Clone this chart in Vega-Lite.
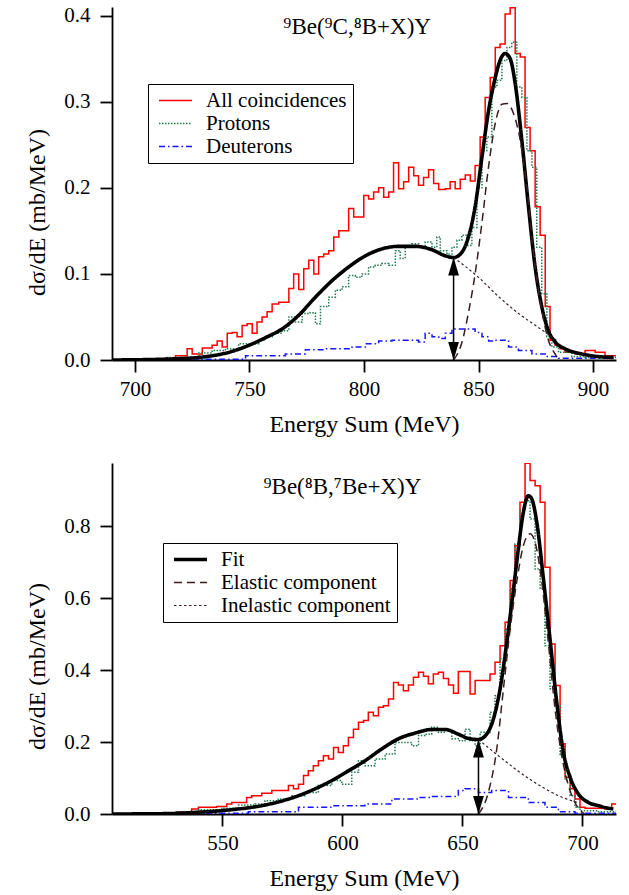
{
  "$schema": "https://vega.github.io/schema/vega-lite/v6.json",
  "background": "white",
  "padding": {"left": 25, "top": 4, "right": 5, "bottom": 2},
  "spacing": 27,
  "config": {
    "font": "Liberation Serif, Times New Roman, serif",
    "view": {"stroke": null},
    "style": {
      "guide-label": {"font": "Liberation Serif, Times New Roman, serif", "fill": "#000"},
      "guide-title": {"font": "Liberation Serif, Times New Roman, serif", "fill": "#000", "fontWeight": "normal"}
    },
    "axis": {"domainColor": "#000", "domainWidth": 1.8, "tickColor": "#000", "tickWidth": 1.8, "tickSize": 12, "labelFont": "Liberation Serif, Times New Roman, serif", "labelFontSize": 21, "labelColor": "#000", "titleFont": "Liberation Serif, Times New Roman, serif", "titleFontSize": 23, "titleFontWeight": "normal", "titleColor": "#000", "grid": false},
    "legend": {"labelFont": "Liberation Serif, Times New Roman, serif", "labelFontSize": 21, "labelColor": "#000", "labelLimit": 400, "strokeColor": "#000", "fillColor": "#fff", "padding": 6, "rowPadding": 1}
  },
  "datasets": {
    "histTop": [
      {"series": "All coincidences", "x": 690, "y": 0},
      {"series": "All coincidences", "x": 711.9, "y": 0.0015},
      {"series": "All coincidences", "x": 717.7, "y": 0.005},
      {"series": "All coincidences", "x": 722.8, "y": 0.013},
      {"series": "All coincidences", "x": 725.0, "y": 0.007},
      {"series": "All coincidences", "x": 729.4, "y": 0.014},
      {"series": "All coincidences", "x": 733.7, "y": 0.017},
      {"series": "All coincidences", "x": 735.9, "y": 0.022},
      {"series": "All coincidences", "x": 738.1, "y": 0.015},
      {"series": "All coincidences", "x": 740.3, "y": 0.031},
      {"series": "All coincidences", "x": 742.4, "y": 0.032},
      {"series": "All coincidences", "x": 744.6, "y": 0.027},
      {"series": "All coincidences", "x": 746.8, "y": 0.040},
      {"series": "All coincidences", "x": 749.0, "y": 0.042},
      {"series": "All coincidences", "x": 751.2, "y": 0.031},
      {"series": "All coincidences", "x": 753.3, "y": 0.044},
      {"series": "All coincidences", "x": 755.5, "y": 0.050},
      {"series": "All coincidences", "x": 757.7, "y": 0.056},
      {"series": "All coincidences", "x": 759.9, "y": 0.065},
      {"series": "All coincidences", "x": 762.8, "y": 0.067},
      {"series": "All coincidences", "x": 767.2, "y": 0.083},
      {"series": "All coincidences", "x": 769.3, "y": 0.100},
      {"series": "All coincidences", "x": 771.5, "y": 0.082},
      {"series": "All coincidences", "x": 773.7, "y": 0.106},
      {"series": "All coincidences", "x": 775.9, "y": 0.116},
      {"series": "All coincidences", "x": 778.1, "y": 0.100},
      {"series": "All coincidences", "x": 780.2, "y": 0.120},
      {"series": "All coincidences", "x": 782.4, "y": 0.123},
      {"series": "All coincidences", "x": 784.6, "y": 0.127},
      {"series": "All coincidences", "x": 786.8, "y": 0.143},
      {"series": "All coincidences", "x": 789.0, "y": 0.150},
      {"series": "All coincidences", "x": 793.3, "y": 0.176},
      {"series": "All coincidences", "x": 795.5, "y": 0.166},
      {"series": "All coincidences", "x": 799.9, "y": 0.191},
      {"series": "All coincidences", "x": 802.0, "y": 0.187},
      {"series": "All coincidences", "x": 804.2, "y": 0.195},
      {"series": "All coincidences", "x": 806.4, "y": 0.200},
      {"series": "All coincidences", "x": 808.6, "y": 0.189},
      {"series": "All coincidences", "x": 810.8, "y": 0.195},
      {"series": "All coincidences", "x": 812.9, "y": 0.229},
      {"series": "All coincidences", "x": 815.1, "y": 0.199},
      {"series": "All coincidences", "x": 817.3, "y": 0.207},
      {"series": "All coincidences", "x": 819.5, "y": 0.224},
      {"series": "All coincidences", "x": 821.7, "y": 0.214},
      {"series": "All coincidences", "x": 823.8, "y": 0.203},
      {"series": "All coincidences", "x": 826.0, "y": 0.212},
      {"series": "All coincidences", "x": 828.2, "y": 0.221},
      {"series": "All coincidences", "x": 830.4, "y": 0.205},
      {"series": "All coincidences", "x": 832.6, "y": 0.198},
      {"series": "All coincidences", "x": 835.5, "y": 0.199},
      {"series": "All coincidences", "x": 837.6, "y": 0.207},
      {"series": "All coincidences", "x": 839.8, "y": 0.199},
      {"series": "All coincidences", "x": 842.0, "y": 0.210},
      {"series": "All coincidences", "x": 844.2, "y": 0.215},
      {"series": "All coincidences", "x": 846.4, "y": 0.208},
      {"series": "All coincidences", "x": 848.5, "y": 0.226},
      {"series": "All coincidences", "x": 850.7, "y": 0.259},
      {"series": "All coincidences", "x": 852.9, "y": 0.305},
      {"series": "All coincidences", "x": 855.1, "y": 0.328},
      {"series": "All coincidences", "x": 857.3, "y": 0.363},
      {"series": "All coincidences", "x": 859.4, "y": 0.367},
      {"series": "All coincidences", "x": 861.6, "y": 0.402},
      {"series": "All coincidences", "x": 863.8, "y": 0.409},
      {"series": "All coincidences", "x": 866.0, "y": 0.356},
      {"series": "All coincidences", "x": 868.2, "y": 0.352},
      {"series": "All coincidences", "x": 870.3, "y": 0.270},
      {"series": "All coincidences", "x": 872.5, "y": 0.243},
      {"series": "All coincidences", "x": 874.7, "y": 0.178},
      {"series": "All coincidences", "x": 876.9, "y": 0.145},
      {"series": "All coincidences", "x": 879.1, "y": 0.062},
      {"series": "All coincidences", "x": 881.2, "y": 0.023},
      {"series": "All coincidences", "x": 883.4, "y": 0.017},
      {"series": "All coincidences", "x": 885.6, "y": 0.013},
      {"series": "All coincidences", "x": 887.8, "y": 0.009},
      {"series": "All coincidences", "x": 892.2, "y": 0.007},
      {"series": "All coincidences", "x": 896.5, "y": 0.011},
      {"series": "All coincidences", "x": 900.9, "y": 0.009},
      {"series": "All coincidences", "x": 905.2, "y": 0.005},
      {"series": "All coincidences", "x": 910, "y": 0.005},
      {"series": "Protons", "x": 690, "y": 0},
      {"series": "Protons", "x": 713.4, "y": 0.003},
      {"series": "Protons", "x": 727.9, "y": 0.008},
      {"series": "Protons", "x": 733.7, "y": 0.011},
      {"series": "Protons", "x": 739.5, "y": 0.013},
      {"series": "Protons", "x": 745.3, "y": 0.019},
      {"series": "Protons", "x": 754.1, "y": 0.023},
      {"series": "Protons", "x": 757.0, "y": 0.027},
      {"series": "Protons", "x": 759.9, "y": 0.031},
      {"series": "Protons", "x": 764.2, "y": 0.034},
      {"series": "Protons", "x": 767.2, "y": 0.050},
      {"series": "Protons", "x": 770.1, "y": 0.044},
      {"series": "Protons", "x": 773.0, "y": 0.054},
      {"series": "Protons", "x": 775.9, "y": 0.055},
      {"series": "Protons", "x": 778.8, "y": 0.042},
      {"series": "Protons", "x": 781.0, "y": 0.062},
      {"series": "Protons", "x": 784.6, "y": 0.073},
      {"series": "Protons", "x": 787.5, "y": 0.081},
      {"series": "Protons", "x": 790.4, "y": 0.085},
      {"series": "Protons", "x": 793.3, "y": 0.098},
      {"series": "Protons", "x": 796.2, "y": 0.096},
      {"series": "Protons", "x": 799.1, "y": 0.100},
      {"series": "Protons", "x": 802.0, "y": 0.108},
      {"series": "Protons", "x": 804.9, "y": 0.110},
      {"series": "Protons", "x": 807.8, "y": 0.112},
      {"series": "Protons", "x": 810.8, "y": 0.110},
      {"series": "Protons", "x": 813.7, "y": 0.127},
      {"series": "Protons", "x": 815.8, "y": 0.118},
      {"series": "Protons", "x": 818.0, "y": 0.133},
      {"series": "Protons", "x": 820.9, "y": 0.135},
      {"series": "Protons", "x": 823.8, "y": 0.131},
      {"series": "Protons", "x": 826.7, "y": 0.137},
      {"series": "Protons", "x": 829.7, "y": 0.131},
      {"series": "Protons", "x": 831.8, "y": 0.143},
      {"series": "Protons", "x": 833.3, "y": 0.127},
      {"series": "Protons", "x": 836.2, "y": 0.123},
      {"series": "Protons", "x": 838.4, "y": 0.131},
      {"series": "Protons", "x": 840.6, "y": 0.139},
      {"series": "Protons", "x": 842.7, "y": 0.145},
      {"series": "Protons", "x": 844.9, "y": 0.133},
      {"series": "Protons", "x": 847.1, "y": 0.154},
      {"series": "Protons", "x": 849.3, "y": 0.200},
      {"series": "Protons", "x": 851.5, "y": 0.243},
      {"series": "Protons", "x": 853.6, "y": 0.259},
      {"series": "Protons", "x": 855.8, "y": 0.317},
      {"series": "Protons", "x": 858.0, "y": 0.325},
      {"series": "Protons", "x": 860.2, "y": 0.348},
      {"series": "Protons", "x": 862.4, "y": 0.363},
      {"series": "Protons", "x": 864.5, "y": 0.369},
      {"series": "Protons", "x": 866.7, "y": 0.317},
      {"series": "Protons", "x": 868.9, "y": 0.305},
      {"series": "Protons", "x": 871.1, "y": 0.243},
      {"series": "Protons", "x": 873.3, "y": 0.224},
      {"series": "Protons", "x": 875.4, "y": 0.131},
      {"series": "Protons", "x": 877.6, "y": 0.077},
      {"series": "Protons", "x": 879.8, "y": 0.027},
      {"series": "Protons", "x": 882.0, "y": 0.015},
      {"series": "Protons", "x": 884.9, "y": 0.009},
      {"series": "Protons", "x": 890.7, "y": 0.004},
      {"series": "Protons", "x": 896.5, "y": 0.003},
      {"series": "Protons", "x": 910, "y": 0.003},
      {"series": "Deuterons", "x": 690, "y": 0},
      {"series": "Deuterons", "x": 727.9, "y": 0.001},
      {"series": "Deuterons", "x": 748.3, "y": 0.005},
      {"series": "Deuterons", "x": 765.7, "y": 0.007},
      {"series": "Deuterons", "x": 774.4, "y": 0.012},
      {"series": "Deuterons", "x": 783.1, "y": 0.013},
      {"series": "Deuterons", "x": 794.8, "y": 0.015},
      {"series": "Deuterons", "x": 800.6, "y": 0.019},
      {"series": "Deuterons", "x": 806.4, "y": 0.022},
      {"series": "Deuterons", "x": 812.2, "y": 0.023},
      {"series": "Deuterons", "x": 823.8, "y": 0.021},
      {"series": "Deuterons", "x": 826.7, "y": 0.031},
      {"series": "Deuterons", "x": 829.7, "y": 0.027},
      {"series": "Deuterons", "x": 832.6, "y": 0.025},
      {"series": "Deuterons", "x": 835.5, "y": 0.031},
      {"series": "Deuterons", "x": 838.4, "y": 0.036},
      {"series": "Deuterons", "x": 848.5, "y": 0.032},
      {"series": "Deuterons", "x": 851.5, "y": 0.027},
      {"series": "Deuterons", "x": 854.4, "y": 0.022},
      {"series": "Deuterons", "x": 857.3, "y": 0.023},
      {"series": "Deuterons", "x": 863.1, "y": 0.015},
      {"series": "Deuterons", "x": 867.4, "y": 0.011},
      {"series": "Deuterons", "x": 873.3, "y": 0.007},
      {"series": "Deuterons", "x": 879.1, "y": 0.004},
      {"series": "Deuterons", "x": 884.9, "y": 0.002},
      {"series": "Deuterons", "x": 910, "y": 0.002}
    ],
    "curveTop": [
      {"comp": "Fit", "x": 690, "y": 0},
      {"comp": "Fit", "x": 713.4, "y": 0.001},
      {"comp": "Fit", "x": 727.9, "y": 0.003},
      {"comp": "Fit", "x": 742.4, "y": 0.010},
      {"comp": "Fit", "x": 749.7, "y": 0.017},
      {"comp": "Fit", "x": 757.0, "y": 0.026},
      {"comp": "Fit", "x": 764.2, "y": 0.036},
      {"comp": "Fit", "x": 771.5, "y": 0.052},
      {"comp": "Fit", "x": 778.8, "y": 0.073},
      {"comp": "Fit", "x": 786.0, "y": 0.092},
      {"comp": "Fit", "x": 793.3, "y": 0.108},
      {"comp": "Fit", "x": 800.6, "y": 0.121},
      {"comp": "Fit", "x": 807.8, "y": 0.129},
      {"comp": "Fit", "x": 815.1, "y": 0.132},
      {"comp": "Fit", "x": 822.4, "y": 0.132},
      {"comp": "Fit", "x": 829.7, "y": 0.128},
      {"comp": "Fit", "x": 835.5, "y": 0.121},
      {"comp": "Fit", "x": 839.1, "y": 0.119},
      {"comp": "Fit", "x": 842.7, "y": 0.125},
      {"comp": "Fit", "x": 845.6, "y": 0.143},
      {"comp": "Fit", "x": 848.5, "y": 0.178},
      {"comp": "Fit", "x": 851.5, "y": 0.236},
      {"comp": "Fit", "x": 854.4, "y": 0.290},
      {"comp": "Fit", "x": 857.3, "y": 0.328},
      {"comp": "Fit", "x": 859.4, "y": 0.348},
      {"comp": "Fit", "x": 861.6, "y": 0.356},
      {"comp": "Fit", "x": 863.8, "y": 0.350},
      {"comp": "Fit", "x": 866.0, "y": 0.321},
      {"comp": "Fit", "x": 868.9, "y": 0.255},
      {"comp": "Fit", "x": 871.8, "y": 0.178},
      {"comp": "Fit", "x": 874.7, "y": 0.108},
      {"comp": "Fit", "x": 877.6, "y": 0.062},
      {"comp": "Fit", "x": 880.5, "y": 0.034},
      {"comp": "Fit", "x": 883.4, "y": 0.021},
      {"comp": "Fit", "x": 887.8, "y": 0.013},
      {"comp": "Fit", "x": 895.1, "y": 0.007},
      {"comp": "Fit", "x": 902.3, "y": 0.004},
      {"comp": "Fit", "x": 908.9, "y": 0.003},
      {"comp": "Elastic component", "x": 839.1, "y": 0},
      {"comp": "Elastic component", "x": 842.7, "y": 0.02},
      {"comp": "Elastic component", "x": 845.6, "y": 0.055},
      {"comp": "Elastic component", "x": 848.5, "y": 0.10},
      {"comp": "Elastic component", "x": 851.5, "y": 0.16},
      {"comp": "Elastic component", "x": 854.4, "y": 0.225},
      {"comp": "Elastic component", "x": 857.3, "y": 0.275},
      {"comp": "Elastic component", "x": 860.2, "y": 0.297},
      {"comp": "Elastic component", "x": 862.4, "y": 0.298},
      {"comp": "Elastic component", "x": 865.3, "y": 0.286},
      {"comp": "Elastic component", "x": 868.2, "y": 0.255},
      {"comp": "Elastic component", "x": 871.1, "y": 0.20},
      {"comp": "Elastic component", "x": 874.0, "y": 0.123},
      {"comp": "Elastic component", "x": 876.9, "y": 0.069},
      {"comp": "Elastic component", "x": 880.5, "y": 0.023},
      {"comp": "Elastic component", "x": 883.4, "y": 0.007},
      {"comp": "Elastic component", "x": 885.0, "y": 0},
      {"comp": "Inelastic component", "x": 839.1, "y": 0.119},
      {"comp": "Inelastic component", "x": 850.0, "y": 0.096},
      {"comp": "Inelastic component", "x": 859.0, "y": 0.073},
      {"comp": "Inelastic component", "x": 868.0, "y": 0.053},
      {"comp": "Inelastic component", "x": 876.0, "y": 0.038},
      {"comp": "Inelastic component", "x": 884.0, "y": 0.023}
    ],
    "arrowTop": [{"x": 839.1, "y": 0, "y2": 0.119}],
    "labelTop": [{"text": "⁹Be(⁹C,⁸B+X)Y", "x": 797, "y": 0.379}],
    "histBottom": [
      {"series": "All coincidences", "x": 504, "y": 0},
      {"series": "All coincidences", "x": 526.1, "y": 0.003},
      {"series": "All coincidences", "x": 531.7, "y": 0.006},
      {"series": "All coincidences", "x": 537.2, "y": 0.014},
      {"series": "All coincidences", "x": 540.0, "y": 0.019},
      {"series": "All coincidences", "x": 547.6, "y": 0.021},
      {"series": "All coincidences", "x": 551.8, "y": 0.028},
      {"series": "All coincidences", "x": 553.9, "y": 0.032},
      {"series": "All coincidences", "x": 560.1, "y": 0.046},
      {"series": "All coincidences", "x": 562.2, "y": 0.051},
      {"series": "All coincidences", "x": 566.4, "y": 0.058},
      {"series": "All coincidences", "x": 570.6, "y": 0.065},
      {"series": "All coincidences", "x": 577.5, "y": 0.079},
      {"series": "All coincidences", "x": 579.6, "y": 0.070},
      {"series": "All coincidences", "x": 581.7, "y": 0.083},
      {"series": "All coincidences", "x": 583.8, "y": 0.107},
      {"series": "All coincidences", "x": 585.8, "y": 0.120},
      {"series": "All coincidences", "x": 587.9, "y": 0.134},
      {"series": "All coincidences", "x": 590.0, "y": 0.148},
      {"series": "All coincidences", "x": 592.1, "y": 0.162},
      {"series": "All coincidences", "x": 594.2, "y": 0.153},
      {"series": "All coincidences", "x": 596.3, "y": 0.185},
      {"series": "All coincidences", "x": 598.3, "y": 0.171},
      {"series": "All coincidences", "x": 600.4, "y": 0.190},
      {"series": "All coincidences", "x": 602.5, "y": 0.213},
      {"series": "All coincidences", "x": 604.6, "y": 0.236},
      {"series": "All coincidences", "x": 606.7, "y": 0.255},
      {"series": "All coincidences", "x": 608.8, "y": 0.260},
      {"series": "All coincidences", "x": 610.8, "y": 0.283},
      {"series": "All coincidences", "x": 612.9, "y": 0.273},
      {"series": "All coincidences", "x": 615.0, "y": 0.297},
      {"series": "All coincidences", "x": 617.1, "y": 0.301},
      {"series": "All coincidences", "x": 619.2, "y": 0.320},
      {"series": "All coincidences", "x": 621.3, "y": 0.366},
      {"series": "All coincidences", "x": 623.3, "y": 0.359},
      {"series": "All coincidences", "x": 625.4, "y": 0.343},
      {"series": "All coincidences", "x": 627.5, "y": 0.359},
      {"series": "All coincidences", "x": 629.6, "y": 0.380},
      {"series": "All coincidences", "x": 631.7, "y": 0.394},
      {"series": "All coincidences", "x": 633.8, "y": 0.383},
      {"series": "All coincidences", "x": 635.8, "y": 0.362},
      {"series": "All coincidences", "x": 637.9, "y": 0.389},
      {"series": "All coincidences", "x": 640.0, "y": 0.394},
      {"series": "All coincidences", "x": 642.1, "y": 0.377},
      {"series": "All coincidences", "x": 644.2, "y": 0.359},
      {"series": "All coincidences", "x": 646.3, "y": 0.336},
      {"series": "All coincidences", "x": 648.3, "y": 0.396},
      {"series": "All coincidences", "x": 653.2, "y": 0.334},
      {"series": "All coincidences", "x": 655.3, "y": 0.371},
      {"series": "All coincidences", "x": 661.5, "y": 0.389},
      {"series": "All coincidences", "x": 663.6, "y": 0.422},
      {"series": "All coincidences", "x": 665.7, "y": 0.468},
      {"series": "All coincidences", "x": 667.8, "y": 0.533},
      {"series": "All coincidences", "x": 669.9, "y": 0.649},
      {"series": "All coincidences", "x": 671.9, "y": 0.746},
      {"series": "All coincidences", "x": 674.0, "y": 0.867},
      {"series": "All coincidences", "x": 676.1, "y": 0.975},
      {"series": "All coincidences", "x": 678.2, "y": 0.927},
      {"series": "All coincidences", "x": 680.3, "y": 0.913},
      {"series": "All coincidences", "x": 682.4, "y": 0.867},
      {"series": "All coincidences", "x": 684.4, "y": 0.686},
      {"series": "All coincidences", "x": 686.5, "y": 0.473},
      {"series": "All coincidences", "x": 688.6, "y": 0.357},
      {"series": "All coincidences", "x": 690.7, "y": 0.195},
      {"series": "All coincidences", "x": 692.8, "y": 0.102},
      {"series": "All coincidences", "x": 694.9, "y": 0.070},
      {"series": "All coincidences", "x": 696.9, "y": 0.042},
      {"series": "All coincidences", "x": 699.0, "y": 0.019},
      {"series": "All coincidences", "x": 701.1, "y": 0.016},
      {"series": "All coincidences", "x": 709.4, "y": 0.014},
      {"series": "All coincidences", "x": 712.2, "y": 0.028},
      {"series": "All coincidences", "x": 714, "y": 0.028},
      {"series": "Protons", "x": 504, "y": 0},
      {"series": "Protons", "x": 530.3, "y": 0.006},
      {"series": "Protons", "x": 540.0, "y": 0.012},
      {"series": "Protons", "x": 549.7, "y": 0.016},
      {"series": "Protons", "x": 556.7, "y": 0.025},
      {"series": "Protons", "x": 563.6, "y": 0.028},
      {"series": "Protons", "x": 567.8, "y": 0.037},
      {"series": "Protons", "x": 573.3, "y": 0.042},
      {"series": "Protons", "x": 578.9, "y": 0.051},
      {"series": "Protons", "x": 584.4, "y": 0.060},
      {"series": "Protons", "x": 590.0, "y": 0.079},
      {"series": "Protons", "x": 595.6, "y": 0.093},
      {"series": "Protons", "x": 599.7, "y": 0.083},
      {"series": "Protons", "x": 603.9, "y": 0.116},
      {"series": "Protons", "x": 606.7, "y": 0.148},
      {"series": "Protons", "x": 609.4, "y": 0.134},
      {"series": "Protons", "x": 613.6, "y": 0.153},
      {"series": "Protons", "x": 617.8, "y": 0.167},
      {"series": "Protons", "x": 621.9, "y": 0.199},
      {"series": "Protons", "x": 628.9, "y": 0.190},
      {"series": "Protons", "x": 631.7, "y": 0.218},
      {"series": "Protons", "x": 634.4, "y": 0.222},
      {"series": "Protons", "x": 637.2, "y": 0.241},
      {"series": "Protons", "x": 640.0, "y": 0.227},
      {"series": "Protons", "x": 642.8, "y": 0.232},
      {"series": "Protons", "x": 645.6, "y": 0.209},
      {"series": "Protons", "x": 648.3, "y": 0.204},
      {"series": "Protons", "x": 651.1, "y": 0.236},
      {"series": "Protons", "x": 653.2, "y": 0.204},
      {"series": "Protons", "x": 655.3, "y": 0.190},
      {"series": "Protons", "x": 657.4, "y": 0.227},
      {"series": "Protons", "x": 661.5, "y": 0.283},
      {"series": "Protons", "x": 663.6, "y": 0.329},
      {"series": "Protons", "x": 665.7, "y": 0.431},
      {"series": "Protons", "x": 667.8, "y": 0.514},
      {"series": "Protons", "x": 669.9, "y": 0.626},
      {"series": "Protons", "x": 671.9, "y": 0.751},
      {"series": "Protons", "x": 674.0, "y": 0.844},
      {"series": "Protons", "x": 676.1, "y": 0.871},
      {"series": "Protons", "x": 678.2, "y": 0.820},
      {"series": "Protons", "x": 680.3, "y": 0.681},
      {"series": "Protons", "x": 682.4, "y": 0.626},
      {"series": "Protons", "x": 684.4, "y": 0.468},
      {"series": "Protons", "x": 686.5, "y": 0.348},
      {"series": "Protons", "x": 688.6, "y": 0.301},
      {"series": "Protons", "x": 690.7, "y": 0.162},
      {"series": "Protons", "x": 692.8, "y": 0.093},
      {"series": "Protons", "x": 694.9, "y": 0.051},
      {"series": "Protons", "x": 696.9, "y": 0.019},
      {"series": "Protons", "x": 699.0, "y": 0.009},
      {"series": "Protons", "x": 706.7, "y": 0.006},
      {"series": "Protons", "x": 714, "y": 0.006},
      {"series": "Deuterons", "x": 504, "y": 0},
      {"series": "Deuterons", "x": 520, "y": 0.002},
      {"series": "Deuterons", "x": 560.8, "y": 0.006},
      {"series": "Deuterons", "x": 581.7, "y": 0.019},
      {"series": "Deuterons", "x": 595.6, "y": 0.023},
      {"series": "Deuterons", "x": 609.4, "y": 0.028},
      {"series": "Deuterons", "x": 620.6, "y": 0.042},
      {"series": "Deuterons", "x": 631.7, "y": 0.046},
      {"series": "Deuterons", "x": 637.2, "y": 0.049},
      {"series": "Deuterons", "x": 648.3, "y": 0.065},
      {"series": "Deuterons", "x": 651.1, "y": 0.070},
      {"series": "Deuterons", "x": 656.7, "y": 0.060},
      {"series": "Deuterons", "x": 662.2, "y": 0.065},
      {"series": "Deuterons", "x": 669.2, "y": 0.046},
      {"series": "Deuterons", "x": 677.5, "y": 0.032},
      {"series": "Deuterons", "x": 684.4, "y": 0.019},
      {"series": "Deuterons", "x": 690.0, "y": 0.006},
      {"series": "Deuterons", "x": 696.9, "y": 0.002},
      {"series": "Deuterons", "x": 714, "y": 0.002}
    ],
    "curveBottom": [
      {"comp": "Fit", "x": 504, "y": 0},
      {"comp": "Fit", "x": 526.1, "y": 0.001},
      {"comp": "Fit", "x": 540.0, "y": 0.005},
      {"comp": "Fit", "x": 553.9, "y": 0.012},
      {"comp": "Fit", "x": 567.8, "y": 0.025},
      {"comp": "Fit", "x": 581.7, "y": 0.051},
      {"comp": "Fit", "x": 588.6, "y": 0.070},
      {"comp": "Fit", "x": 595.6, "y": 0.093},
      {"comp": "Fit", "x": 602.5, "y": 0.120},
      {"comp": "Fit", "x": 609.4, "y": 0.148},
      {"comp": "Fit", "x": 616.4, "y": 0.181},
      {"comp": "Fit", "x": 623.3, "y": 0.209},
      {"comp": "Fit", "x": 630.3, "y": 0.225},
      {"comp": "Fit", "x": 637.2, "y": 0.235},
      {"comp": "Fit", "x": 642.8, "y": 0.235},
      {"comp": "Fit", "x": 648.3, "y": 0.222},
      {"comp": "Fit", "x": 652.5, "y": 0.210},
      {"comp": "Fit", "x": 656.7, "y": 0.207},
      {"comp": "Fit", "x": 660.1, "y": 0.222},
      {"comp": "Fit", "x": 662.9, "y": 0.264},
      {"comp": "Fit", "x": 665.7, "y": 0.348},
      {"comp": "Fit", "x": 668.5, "y": 0.477},
      {"comp": "Fit", "x": 671.3, "y": 0.626},
      {"comp": "Fit", "x": 673.3, "y": 0.737},
      {"comp": "Fit", "x": 675.4, "y": 0.839},
      {"comp": "Fit", "x": 677.5, "y": 0.885},
      {"comp": "Fit", "x": 678.9, "y": 0.876},
      {"comp": "Fit", "x": 681.0, "y": 0.811},
      {"comp": "Fit", "x": 683.75, "y": 0.654},
      {"comp": "Fit", "x": 686.5, "y": 0.487},
      {"comp": "Fit", "x": 689.3, "y": 0.311},
      {"comp": "Fit", "x": 692.1, "y": 0.171},
      {"comp": "Fit", "x": 694.9, "y": 0.102},
      {"comp": "Fit", "x": 698.3, "y": 0.056},
      {"comp": "Fit", "x": 702.5, "y": 0.032},
      {"comp": "Fit", "x": 706.7, "y": 0.023},
      {"comp": "Fit", "x": 710.8, "y": 0.016},
      {"comp": "Fit", "x": 712.9, "y": 0.014},
      {"comp": "Elastic component", "x": 656.7, "y": 0},
      {"comp": "Elastic component", "x": 660.8, "y": 0.06},
      {"comp": "Elastic component", "x": 664.3, "y": 0.18},
      {"comp": "Elastic component", "x": 667.1, "y": 0.348},
      {"comp": "Elastic component", "x": 669.9, "y": 0.514},
      {"comp": "Elastic component", "x": 672.6, "y": 0.644},
      {"comp": "Elastic component", "x": 675.4, "y": 0.746},
      {"comp": "Elastic component", "x": 678.2, "y": 0.779},
      {"comp": "Elastic component", "x": 680.3, "y": 0.755},
      {"comp": "Elastic component", "x": 683.1, "y": 0.644},
      {"comp": "Elastic component", "x": 685.8, "y": 0.477},
      {"comp": "Elastic component", "x": 688.6, "y": 0.292},
      {"comp": "Elastic component", "x": 691.4, "y": 0.162},
      {"comp": "Elastic component", "x": 694.2, "y": 0.079},
      {"comp": "Elastic component", "x": 696.9, "y": 0.032},
      {"comp": "Elastic component", "x": 699.7, "y": 0.006},
      {"comp": "Elastic component", "x": 701.0, "y": 0},
      {"comp": "Inelastic component", "x": 656.7, "y": 0.207},
      {"comp": "Inelastic component", "x": 665.0, "y": 0.162},
      {"comp": "Inelastic component", "x": 678.9, "y": 0.093},
      {"comp": "Inelastic component", "x": 690.0, "y": 0.051},
      {"comp": "Inelastic component", "x": 698.3, "y": 0.031}
    ],
    "arrowBottom": [{"x": 656.7, "y": 0, "y2": 0.207}],
    "labelBottom": [{"text": "⁹Be(⁸B,⁷Be+X)Y", "x": 600, "y": 0.89}]
  },
  "vconcat": [
    {
      "width": 504,
      "height": 353,
      "encoding": {
        "x": {"field": "x", "type": "quantitative", "scale": {"domain": [690, 910], "nice": false, "zero": false}, "axis": {"title": "Energy Sum (MeV)", "values": [700, 750, 800, 850, 900], "format": "d", "labelFont": "Liberation Serif, Times New Roman, serif", "titleFont": "Liberation Serif, Times New Roman, serif", "labelFontSize": 21, "titleFontSize": 24, "labelPadding": 6, "titlePadding": 13}},
        "y": {"field": "y", "type": "quantitative", "scale": {"domain": [0, 0.41], "nice": false}, "axis": {"title": "dσ/dE (mb/MeV)", "values": [0, 0.1, 0.2, 0.3, 0.4], "format": ".1f", "labelFont": "Liberation Serif, Times New Roman, serif", "titleFont": "Liberation Serif, Times New Roman, serif", "labelFontSize": 21, "titleFontSize": 24, "labelPadding": 10, "titlePadding": 14, "titleY": 205}}
      },
      "layer": [
        {
          "data": {"name": "histTop"},
          "mark": {"type": "line", "interpolate": "step-after", "strokeWidth": 1.5, "clip": true},
          "encoding": {
            "color": {"field": "series", "type": "nominal", "scale": {"domain": ["All coincidences", "Protons", "Deuterons"], "range": ["#ff0000", "#1f7a4d", "#1414ff"]}, "legend": {"orient": "none", "legendX": 36, "legendY": 77, "title": null, "symbolType": "M-3,0H3", "symbolSize": 121, "symbolOffset": 11, "labelOffset": 20, "symbolStrokeWidth": 1.5}},
            "strokeDash": {"field": "series", "type": "nominal", "scale": {"domain": ["All coincidences", "Protons", "Deuterons"], "range": [[1, 0], [1.5, 1.5], [6, 3, 1.5, 3]]}, "legend": {"orient": "none", "legendX": 36, "legendY": 77, "title": null, "symbolType": "M-3,0H3", "symbolSize": 121, "symbolOffset": 11, "labelOffset": 20, "symbolStrokeWidth": 1.5}}
          }
        },
        {
          "data": {"name": "curveTop"},
          "mark": {"type": "line", "interpolate": "monotone", "clip": true},
          "encoding": {
            "color": {"field": "comp", "type": "nominal", "scale": {"domain": ["Fit", "d1", "d2", "d3", "d4", "d5", "d6", "Elastic component", "Inelastic component"], "range": ["#000000", "#000000", "#000000", "#000000", "#000000", "#000000", "#000000", "#3b1e1e", "#3b1e1e"]}, "legend": null},
            "strokeDash": {"field": "comp", "type": "nominal", "scale": {"domain": ["Fit", "d1", "d2", "d3", "d4", "d5", "d6", "Elastic component", "Inelastic component"], "range": [[1, 0], [1, 0], [1, 0], [1, 0], [1, 0], [1, 0], [1, 0], [8, 5], [2.5, 2.5]]}, "legend": null},
            "strokeWidth": {"field": "comp", "type": "nominal", "scale": {"type": "point", "padding": 0, "domain": ["Fit", "d1", "d2", "d3", "d4", "d5", "d6", "Elastic component", "Inelastic component"], "range": [3.6, 1.2]}, "legend": null}
          }
        },
        {
          "data": {"name": "arrowTop"},
          "mark": {"type": "rule", "color": "#000", "strokeWidth": 1.5},
          "encoding": {"y2": {"field": "y2"}}
        },
        {
          "data": {"name": "arrowTop"},
          "mark": {"type": "point", "filled": true, "opacity": 1, "color": "#000", "strokeWidth": 0, "size": 1296, "shape": "M0,0L-0.3,1L0.3,1Z"},
          "encoding": {"y": {"field": "y2", "type": "quantitative"}}
        },
        {
          "data": {"name": "arrowTop"},
          "mark": {"type": "point", "filled": true, "opacity": 1, "color": "#000", "strokeWidth": 0, "size": 1296, "shape": "M0,0L-0.3,-1L0.3,-1Z"},
          "encoding": {}
        },
        {
          "data": {"name": "labelTop"},
          "mark": {"type": "text", "font": "Liberation Serif, Times New Roman, serif", "fontSize": 23, "align": "center", "baseline": "alphabetic", "color": "#000"},
          "encoding": {"text": {"field": "text"}}
        }
      ],
      "resolve": {"scale": {"color": "independent", "strokeDash": "independent", "strokeWidth": "independent"}}
    },
    {
      "width": 504,
      "height": 351,
      "encoding": {
        "x": {"field": "x", "type": "quantitative", "scale": {"domain": [504, 714], "nice": false, "zero": false}, "axis": {"title": "Energy Sum (MeV)", "values": [550, 600, 650, 700], "format": "d", "labelFont": "Liberation Serif, Times New Roman, serif", "titleFont": "Liberation Serif, Times New Roman, serif", "labelFontSize": 21, "titleFontSize": 24, "labelPadding": 6, "titlePadding": 13}},
        "y": {"field": "y", "type": "quantitative", "scale": {"domain": [0, 0.976], "nice": false}, "axis": {"title": "dσ/dE (mb/MeV)", "values": [0, 0.2, 0.4, 0.6, 0.8], "format": ".1f", "labelFont": "Liberation Serif, Times New Roman, serif", "titleFont": "Liberation Serif, Times New Roman, serif", "labelFontSize": 21, "titleFontSize": 24, "labelPadding": 10, "titlePadding": 14, "titleY": 203}}
      },
      "layer": [
        {
          "data": {"name": "histBottom"},
          "mark": {"type": "line", "interpolate": "step-after", "strokeWidth": 1.5, "clip": true},
          "encoding": {
            "color": {"field": "series", "type": "nominal", "scale": {"domain": ["All coincidences", "Protons", "Deuterons"], "range": ["#ff0000", "#1f7a4d", "#1414ff"]}, "legend": null},
            "strokeDash": {"field": "series", "type": "nominal", "scale": {"domain": ["All coincidences", "Protons", "Deuterons"], "range": [[1, 0], [1.5, 1.5], [6, 3, 1.5, 3]]}, "legend": null}
          }
        },
        {
          "data": {"name": "curveBottom"},
          "mark": {"type": "line", "interpolate": "monotone", "clip": true},
          "encoding": {
            "color": {"field": "comp", "type": "nominal", "scale": {"domain": ["Fit", "d1", "d2", "d3", "d4", "d5", "d6", "Elastic component", "Inelastic component"], "range": ["#000000", "#000000", "#000000", "#000000", "#000000", "#000000", "#000000", "#3b1e1e", "#3b1e1e"]}, "legend": {"orient": "none", "legendX": 51, "legendY": 80, "title": null, "values": ["Fit", "Elastic component", "Inelastic component"], "symbolType": "M-3,0H3", "symbolSize": 121, "symbolOffset": 11, "labelOffset": 20}},
            "strokeDash": {"field": "comp", "type": "nominal", "scale": {"domain": ["Fit", "d1", "d2", "d3", "d4", "d5", "d6", "Elastic component", "Inelastic component"], "range": [[1, 0], [1, 0], [1, 0], [1, 0], [1, 0], [1, 0], [1, 0], [8, 5], [2.5, 2.5]]}, "legend": {"orient": "none", "legendX": 51, "legendY": 80, "title": null, "values": ["Fit", "Elastic component", "Inelastic component"], "symbolType": "M-3,0H3", "symbolSize": 121, "symbolOffset": 11, "labelOffset": 20}},
            "strokeWidth": {"field": "comp", "type": "nominal", "scale": {"type": "point", "padding": 0, "domain": ["Fit", "d1", "d2", "d3", "d4", "d5", "d6", "Elastic component", "Inelastic component"], "range": [3.6, 1.2]}, "legend": {"orient": "none", "legendX": 51, "legendY": 80, "title": null, "values": ["Fit", "Elastic component", "Inelastic component"], "symbolType": "M-3,0H3", "symbolSize": 121, "symbolOffset": 11, "labelOffset": 20}}
          }
        },
        {
          "data": {"name": "arrowBottom"},
          "mark": {"type": "rule", "color": "#000", "strokeWidth": 1.5},
          "encoding": {"y2": {"field": "y2"}}
        },
        {
          "data": {"name": "arrowBottom"},
          "mark": {"type": "point", "filled": true, "opacity": 1, "color": "#000", "strokeWidth": 0, "size": 1296, "shape": "M0,0L-0.3,1L0.3,1Z"},
          "encoding": {"y": {"field": "y2", "type": "quantitative"}}
        },
        {
          "data": {"name": "arrowBottom"},
          "mark": {"type": "point", "filled": true, "opacity": 1, "color": "#000", "strokeWidth": 0, "size": 1296, "shape": "M0,0L-0.3,-1L0.3,-1Z"},
          "encoding": {}
        },
        {
          "data": {"name": "labelBottom"},
          "mark": {"type": "text", "font": "Liberation Serif, Times New Roman, serif", "fontSize": 23, "align": "center", "baseline": "alphabetic", "color": "#000"},
          "encoding": {"text": {"field": "text"}}
        }
      ],
      "resolve": {"scale": {"color": "independent", "strokeDash": "independent", "strokeWidth": "independent"}}
    }
  ]
}
